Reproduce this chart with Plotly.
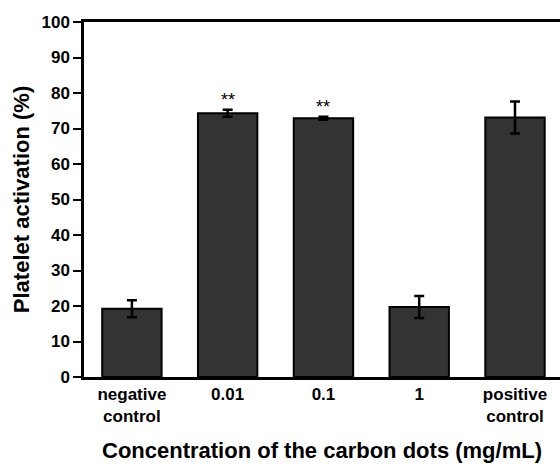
import plotly.graph_objects as go

categories = ["negative<br>control", "0.01", "0.1", "1", "positive<br>control"]
values = [19.2, 74.3, 72.9, 19.7, 73.1]
errors = [2.4, 1.0, 0.4, 3.1, 4.5]
marks = ["", "**", "**", "", ""]

fig = go.Figure()
fig.add_trace(go.Bar(
    x=list(range(len(categories))), y=values,
    width=0.62,
    marker=dict(color="#333333", line=dict(color="black", width=2)),
    error_y=dict(type="data", array=errors, visible=True, color="black", thickness=2.5, width=5),
    showlegend=False,
))
for i, (v, e, m) in enumerate(zip(values, errors, marks)):
    if m:
        fig.add_annotation(x=i, y=v + e, text=m, showarrow=False, yanchor="bottom",
                           yshift=-2, font=dict(size=18, color="black", family="Liberation Sans"))

fig.update_layout(
    width=560, height=464,
    margin=dict(l=84, r=0, t=22, b=87),
    plot_bgcolor="white", paper_bgcolor="white",
    font=dict(family="Liberation Sans", color="black"),
    xaxis=dict(
        range=[-0.5, 4.47],
        tickvals=list(range(len(categories))), ticktext=["<b>%s</b>" % c for c in categories],
        showline=True, linecolor="black", linewidth=2.5, mirror=True,
        ticks="", showgrid=False, zeroline=False,
        tickfont=dict(size=17, family="Liberation Sans"),
        title=dict(text="<b>Concentration of the carbon dots (mg/mL)</b>",
                   font=dict(size=22, family="Liberation Sans"), standoff=18),
    ),
    yaxis=dict(
        range=[0, 100], dtick=10,
        showline=True, linecolor="black", linewidth=2.5,
        ticks="outside", ticklen=8, tickwidth=2, tickcolor="black",
        showgrid=False, zeroline=False,
        tickfont=dict(size=17, family="Liberation Sans"),
        tickprefix="<b>", ticksuffix="</b>",
        title=dict(text="<b>Platelet activation (%)</b>",
                   font=dict(size=22, family="Liberation Sans"), standoff=6),
    ),
)
fig.write_html("out.html")
